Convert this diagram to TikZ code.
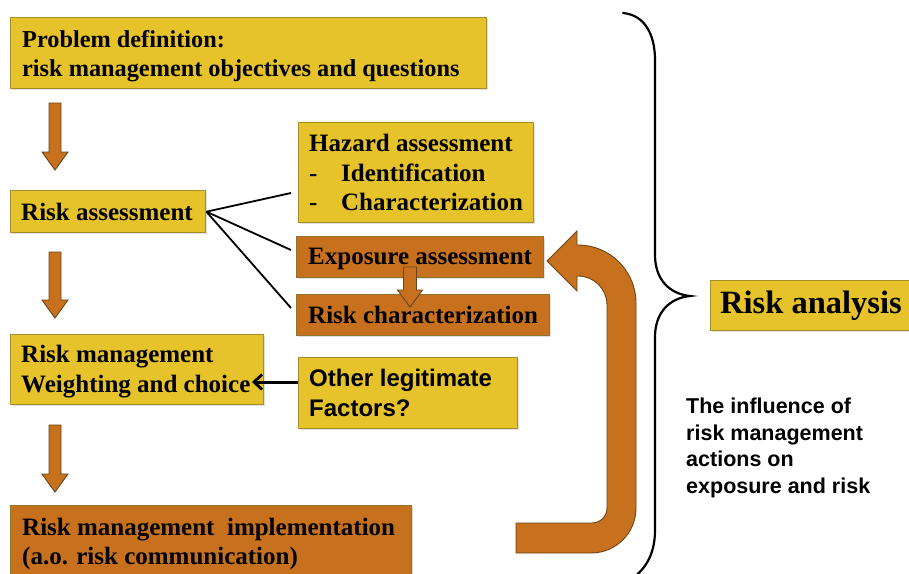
\documentclass[tikz,border=0pt]{standalone}
\usepackage{fontspec}
\setmainfont{Liberation Serif}
\newfontfamily\arialfam{Liberation Sans}
\usetikzlibrary{arrows.meta,shadows}
\definecolor{yfill}{RGB}{231,195,43}
\definecolor{ybord}{RGB}{165,142,40}
\definecolor{ofill}{RGB}{199,113,31}
\definecolor{obord}{RGB}{140,118,42}
\definecolor{adraw}{RGB}{105,68,25}
\newcommand\serfont{\fontsize{25}{29.5}\selectfont\bfseries}
\newcommand\sansfont{\arialfam\fontsize{24}{30}\selectfont\bfseries}
\newcommand\dnarr[6]{\draw[farrow] (#1-#5,#2) -- (#1+#5,#2) -- (#1+#5,#3) -- (#1+#6,#3) -- (#1,#4) -- (#1-#6,#3) -- (#1-#5,#3) -- cycle;}
\tikzset{
  box/.style={line width=1.4pt, anchor=north west, inner sep=0pt,
              drop shadow={shadow xshift=1.5pt, shadow yshift=-1.5pt, opacity=0.25}},
  ybox/.style={box, draw=ybord, fill=yfill},
  obox/.style={box, draw=obord, fill=ofill},
  label/.style={anchor=west, inner sep=0pt, align=left, font=\serfont},
  farrow/.style={fill=ofill, draw=adraw, line width=0.9pt, line join=miter},
  link/.style={line width=1.8pt, draw=black},
}
\begin{document}
\begin{tikzpicture}[x=1pt,y=-1pt]
\useasboundingbox (0,0) rectangle (909,573);
% boxes
\node[ybox, minimum width=476, minimum height=71] (pd) at (10,17) {};
\node[ybox, minimum width=195, minimum height=42] (ra) at (10,190) {};
\node[ybox, minimum width=253, minimum height=70] (rm) at (10,334) {};
\node[obox, minimum width=401, minimum height=76] (rmi) at (10,505) {};
\node[ybox, minimum width=235, minimum height=100] (haz) at (298,122) {};
\node[obox, minimum width=247, minimum height=41] (exp) at (296,236) {};
\node[obox, minimum width=253, minimum height=41] (rc) at (296,294) {};
\node[ybox, minimum width=219, minimum height=71] (oth) at (298,357) {};
\node[ybox, minimum width=215, minimum height=50] (ran) at (710,280) {};
% texts
\node[label, font=\fontsize{24.3}{28.5}\selectfont\bfseries] (pdt) at ([xshift=12pt,yshift=-3pt]pd.west)
  {Problem definition:\\risk management objectives and questions};
\node[label] (rat) at ([xshift=11pt]ra.west) {Risk assessment};
\node[label] (rmt) at ([xshift=11pt,yshift=-2pt]rm.west) {Risk management\\Weighting and choice};
\node[label, font=\fontsize{25}{29}\selectfont\bfseries] (rmit) at ([xshift=12pt,yshift=0pt]rmi.west)
  {Risk management\ \ implementation\\(a.o. risk communication)};
\node[label] (hazt) at ([xshift=11pt,yshift=0pt]haz.west)
  {Hazard assessment\\\makebox[32pt][l]{-}Identification\\\makebox[32pt][l]{-}Characterization};
\node[label] (expt) at ([xshift=12pt,yshift=-2pt]exp.west) {Exposure assessment};
\node[label] (rct) at ([xshift=12pt]rc.west) {Risk characterization};
\node[label, font=\sansfont] (otht) at ([xshift=11pt]oth.west) {Other legitimate\\Factors?};
\node[label, font=\fontsize{32.5}{36}\selectfont\bfseries] (rant) at ([xshift=10pt]ran.west) {Risk analysis};
\node[anchor=north west, inner sep=0pt, align=left, font=\arialfam\fontsize{21.5}{26.5}\selectfont\bfseries] (infl) at (686,398)
  {The influence of\\risk management\\actions on\\exposure and risk};
% orange down arrows
\dnarr{55}{103}{152}{170}{6}{13}
\dnarr{55}{252}{300}{318}{6}{13}
\dnarr{55}{425}{474}{492}{6}{13}
\dnarr{410}{267}{290}{307}{6.5}{12.5}
% links from risk assessment
\coordinate (hzp) at (291,193);
\coordinate (exq) at (291,250);
\coordinate (rcq) at (291,308);
\draw[link] (ra.east) -- (hzp);
\draw[link] (ra.east) -- (exq);
\draw[link] (ra.east) -- (rcq);
% black arrow from other factors
\coordinate (rmtip) at (252,382);
\draw[line width=3pt, -{Straight Barb[length=8pt,width=15pt,line width=2.8pt]}] (rmtip -| oth.west) -- (rmtip);
% U-shaped feedback arrow
\draw[farrow] (516,523) -- (592,523) .. controls (600.3,523) and (607,516.3) .. (607,508)
  -- (607,305) .. controls (607,289) and (594,276) .. (578,276) -- (577,276) -- (577,291)
  -- (547,261) -- (577,231) -- (577,245) -- (578,245)
  .. controls (610,245) and (636,271) .. (636,303) -- (636,508)
  .. controls (636,533) and (616,553) .. (591,553) -- (516,553) -- cycle;
% brace
\draw[line width=2.2pt, line cap=round] (623,13) .. controls (645,15) and (655,35) .. (655,60)
  -- (655,255) .. controls (655,280) and (670,294) .. (690,296)
  .. controls (670,298) and (655,312) .. (655,337)
  -- (655,530) .. controls (655,555) and (645,570) .. (630,580);
\end{tikzpicture}
\end{document}
